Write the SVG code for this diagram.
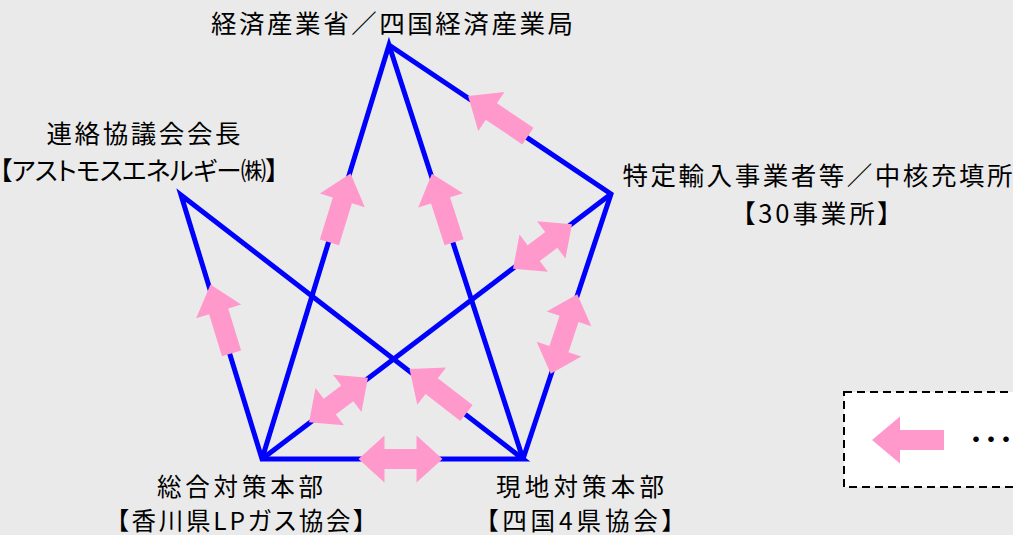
<svg xmlns="http://www.w3.org/2000/svg" xmlns:xlink="http://www.w3.org/1999/xlink" width="1013" height="535" viewBox="0 0 1013 535">
<style>
.bg{fill:#EAEAEA}
.ln{fill:none;stroke:#0000FF;stroke-width:5;stroke-linejoin:miter}
.ar{fill:#FF99CC}
.lbl{font-family:"Noto Sans CJK JP","Noto Sans",sans-serif;font-size:25.5px;fill:#000;text-anchor:middle;font-feature-settings:"palt"}
.sm{font-size:24.5px}
.leg{fill:#FFFFFF;stroke:#000;stroke-width:2;stroke-dasharray:8 5}
</style>
<defs>
<polygon id="sa" points="36,0 8,-23.5 8,-10 -36,-10 -36,10 8,10 8,23.5"/>
<polygon id="da74" points="-37,0 -11,-23.5 -11,-10 11,-10 11,-23.5 37,0 11,23.5 11,10 -11,10 -11,23.5"/>
<polygon id="da84" points="-42,0 -16,-23.5 -16,-10 16,-10 16,-23.5 42,0 16,23.5 16,10 -16,10 -16,23.5"/>
</defs>
<rect class="bg" x="0" y="0" width="1013" height="535"/>
<g id="connectors">
<path class="ln" d="M262,459 L389,45 L523,459"/>
<path class="ln" d="M523,459 L181,195 L262,459 Z"/>
<path class="ln" d="M389,45 L611,194 L523,459"/>
<path class="ln" d="M262,459 L611,194"/>
<g class="ar">
<use xlink:href="#sa" transform="translate(498,116) rotate(213.9)"/>
<use xlink:href="#sa" transform="translate(340,208) rotate(-72.95)"/>
<use xlink:href="#sa" transform="translate(443,208) rotate(-107.9)"/>
<use xlink:href="#sa" transform="translate(221,319) rotate(-107.06)"/>
<use xlink:href="#sa" transform="translate(438,391) rotate(-142.3)"/>
<use xlink:href="#da74" transform="translate(338.5,400) rotate(-37.2)"/>
<use xlink:href="#da74" transform="translate(542.5,246.5) rotate(-37.2)"/>
<use xlink:href="#da84" transform="translate(564,334) rotate(-71.6)"/>
<use xlink:href="#da84" transform="translate(400.5,459)"/>
</g>
</g>
<g id="node-meti">
<text class="lbl" x="392" y="33" textLength="362" lengthAdjust="spacing">経済産業省／四国経済産業局</text>
</g>
<g id="node-council">
<text class="lbl" x="143.5" y="143" textLength="194" lengthAdjust="spacing">連絡協議会会長</text>
<text class="lbl" x="139" y="180" textLength="279" lengthAdjust="spacing">【アストモスエネルギー㈱】</text>
</g>
<g id="node-importers">
<text class="lbl" x="817.5" y="185" textLength="390" lengthAdjust="spacing">特定輸入事業者等／中核充填所</text>
<text class="lbl" x="816.5" y="223" textLength="148" lengthAdjust="spacing">【30事業所】</text>
</g>
<g id="node-hq">
<text class="lbl sm" x="240" y="496" textLength="166" lengthAdjust="spacing">総合対策本部</text>
<text class="lbl sm" x="241" y="530" textLength="249" lengthAdjust="spacing">【香川県LPガス協会】</text>
</g>
<g id="node-local">
<text class="lbl sm" x="580" y="496" textLength="168" lengthAdjust="spacing">現地対策本部</text>
<text class="lbl sm" x="580" y="530" textLength="188" lengthAdjust="spacing">【四国4県協会】</text>
</g>
<g id="legend">
<rect class="leg" x="844" y="392" width="180" height="95"/>
<use class="ar" xlink:href="#sa" transform="translate(908,440) rotate(180)"/>
<text x="965" y="447" style="font-family:'Noto Sans CJK JP',sans-serif;font-size:22px;font-weight:bold;letter-spacing:-7px;fill:#000">・・・</text>
</g>
</svg>
